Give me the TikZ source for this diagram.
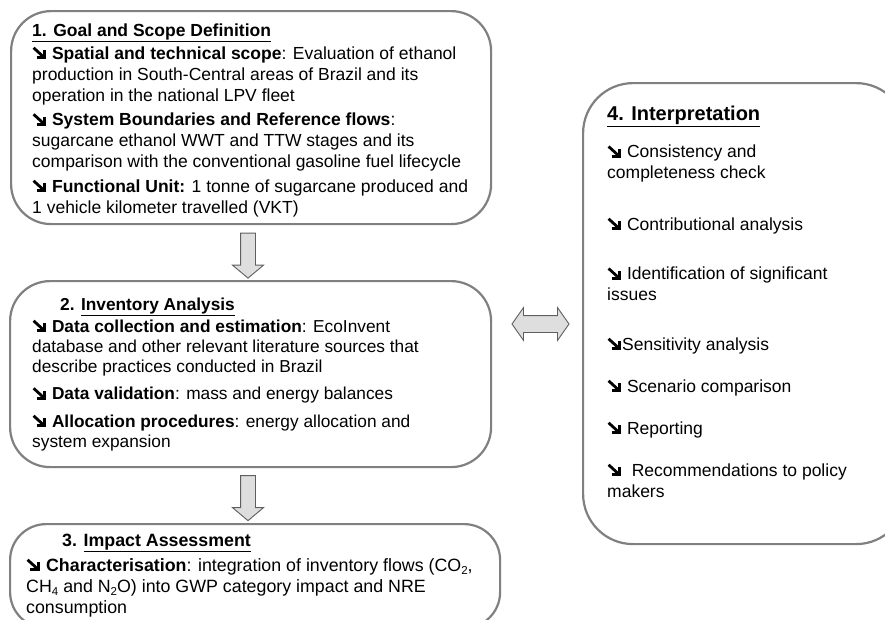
\documentclass[tikz,border=0pt]{standalone}
\usepackage{fontspec}
\setmainfont{Liberation Sans}
\usetikzlibrary{shapes.arrows}

\definecolor{framegray}{RGB}{128,128,128}
\definecolor{arrowfill}{RGB}{222,222,222}
\definecolor{arrowline}{RGB}{95,95,95}

% heavy south-east bullet arrow
\newcommand{\pointer}{\tikz[x=1pt, y=1pt, baseline=0pt, line width=2.8pt]{%
    \draw[miter limit=6] (3.8,1.4) -- (11.6,1.4) -- (11.6,9);
    \draw (0.9,11.2) -- (10.4,2.5);}\hspace{1.5pt}}
% lowered index for the gas formulas
\newcommand{\low}[1]{\raisebox{-3.5pt}{\fontsize{11.5}{11.5}\selectfont #1}}

\tikzset{
  stage/.style={draw=framegray, line width=2.2pt, rounded corners=#1,
    anchor=north west, inner sep=0pt},
  stage/.default=40,
  txt/.style={anchor=base west, align=left, inner sep=0pt,
    font=\fontsize{17.5}{21}\selectfont},
  downarrow/.style={single arrow, draw=arrowline, fill=arrowfill, line width=0.9pt,
    inner sep=7pt, minimum height=45pt, single arrow head extend=8pt,
    single arrow tip angle=100, shape border rotate=270},
  sidearrow/.style={double arrow, draw=arrowline, fill=arrowfill, line width=0.9pt,
    inner sep=8pt, minimum height=57pt, double arrow head extend=8pt,
    double arrow tip angle=110}
}

\begin{document}
\begin{tikzpicture}[x=1pt, y=-1pt]
    \useasboundingbox (0,0) rectangle (885,619);

    % the four stages
    \node[stage, minimum width=480, minimum height=213] (goal) at (10,10) {};
    \node[stage, minimum width=481, minimum height=186] (inventory) at (9,280) {};
    \node[stage=36, minimum width=490, minimum height=104] (impact) at (9,523) {};
    \node[stage=50, minimum width=323, minimum height=461] (interp) at (582,82) {};

    % block arrows
    \node[downarrow] (step1) at (248,252.5) {};
    \node[downarrow] (step2) at (248,495) {};
    \node[sidearrow] (link) at (540.5,324) {};

    % 1 (placed by the baseline of its last line)
    \node[txt] (goaltext) at (32,213) {\underline{\textbf{1. Goal and Scope Definition}}\\[2pt]
        \pointer{} \textbf{Spatial and technical scope}: Evaluation of ethanol\\
        production in South-Central areas of Brazil and its\\
        operation in the national LPV fleet\\[3.5pt]
        \pointer{} \textbf{System Boundaries and Reference flows}:\\
        sugarcane ethanol WWT and TTW stages and its\\
        comparison with the conventional gasoline fuel lifecycle\\[3.5pt]
        \pointer{} \textbf{Functional Unit:} 1 tonne of sugarcane produced and\\
        1 vehicle kilometer travelled (VKT)};

    % 2
    \node[txt, font=\fontsize{17.3}{20}\selectfont] (inventorytext) at (32,447)
        {\hspace{28pt}\textbf{2. \underline{Inventory Analysis}}\\[2pt]
        \pointer{} \textbf{Data collection and estimation}: EcoInvent\\
        database and other relevant literature sources that\\
        describe practices conducted in Brazil\\[7.5pt]
        \pointer{} \textbf{Data validation}: mass and energy balances\\[7.5pt]
        \pointer{} \textbf{Allocation procedures}: energy allocation and\\
        system expansion};

    % 3
    \node[txt, font=\fontsize{17.8}{21}\selectfont] (impacttext) at (26,613)
        {\hspace{36pt}\textbf{3. \underline{Impact Assessment}}\\[4pt]
        \pointer{} \textbf{Characterisation}: integration of inventory flows (CO\low{2},\\
        CH\low{4} and N\low{2}O) into GWP category impact and NRE\\
        consumption};

    % 4
    \node[txt, font=\fontsize{20}{24}\selectfont] (interptitle) at (607,120.5)
        {\underline{\textbf{4. Interpretation}}};
    \node[txt] (check) at (607,178.7) {\pointer{} Consistency and\\completeness check};
    \node[txt] (contrib) at (607,230) {\pointer{} Contributional analysis};
    \node[txt] (issues) at (607,300.7) {\pointer{} Identification of significant\\issues};
    \node[txt] (sensitivity) at (607,350) {\pointer{}Sensitivity analysis};
    \node[txt] (scenario) at (607,392) {\pointer{} Scenario comparison};
    \node[txt] (reporting) at (607,434) {\pointer{} Reporting};
    \node[txt] (advice) at (607,497) {\pointer{}\hspace{.55em}Recommendations to policy\\makers};

\end{tikzpicture}
\end{document}
